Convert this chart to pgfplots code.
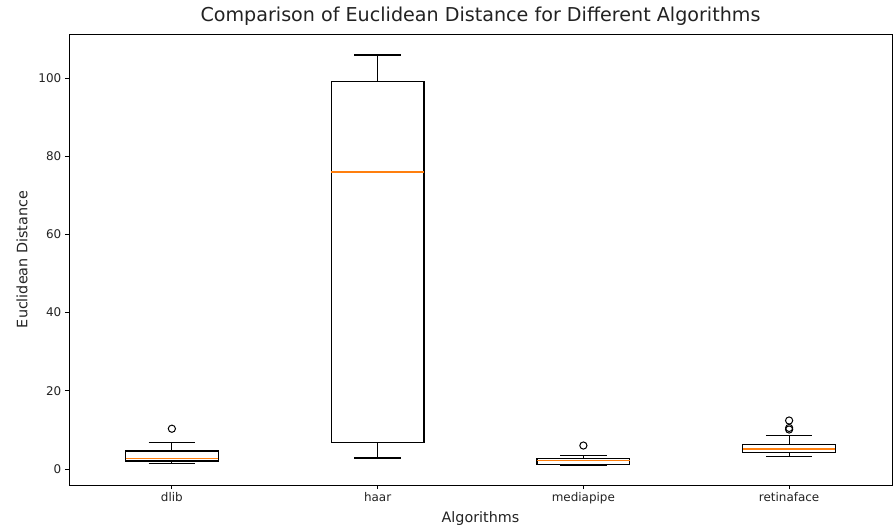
\documentclass[border=0pt]{standalone}
\usepackage{pgfplots}
\usepgfplotslibrary{statistics}
\pgfplotsset{compat=1.18}
\usepackage{fontspec}
\setmainfont{DejaVu Sans}
\definecolor{mplorange}{HTML}{FF7F0E}
\definecolor{txt}{HTML}{222222}

\begin{document}
\begin{tikzpicture}
\path[use as bounding box] (0,0) rectangle (893bp,529bp);
\begin{axis}[
at={(69bp,44bp)},
anchor=south west,
scale only axis,
width=823bp,
height=451bp,
xmin=0.5, xmax=4.5,
ymin=-4.09, ymax=111.25,
xtick={1,2,3,4},
xticklabels={dlib,haar,mediapipe,retinaface},
ytick={0,20,40,60,80,100},
tick pos=left,
tick align=outside,
major tick length=4.2bp,
every tick/.style={black, line width=0.96bp},
axis line style={black, line width=0.96bp},
/pgf/number format/assume math mode=true,
tick label style={font=\fontsize{12}{14}\selectfont, text=txt},
label style={font=\fontsize{14.4}{17}\selectfont, text=txt},
ylabel style={xshift=0bp, yshift=4bp},
title style={font=\fontsize{19.2}{22}\selectfont, text=txt, yshift=-1bp},
title={Comparison of Euclidean Distance for Different Algorithms},
xlabel={Algorithms},
ylabel={Euclidean Distance},
boxplot/draw direction=y,
boxplot/box extend=0.45,
boxplot/whisker extend=0.225,
boxplot/every median/.style={draw=mplorange, line width=1.4bp},
]
% dlib
\addplot[black, line width=1.2bp, mark=o, mark size=3.6bp, mark options={line width=1bp},
boxplot prepared={draw position=1, lower whisker=1.45, lower quartile=2.05,
median=2.7, upper quartile=4.6, upper whisker=6.7}]
coordinates {(0,10.3)};
% haar
\addplot[black, line width=1.2bp,
boxplot prepared={draw position=2, lower whisker=2.8, lower quartile=6.7,
median=76.0, upper quartile=99.2, upper whisker=105.9}]
coordinates {};
% mediapipe
\addplot[black, line width=1.2bp, mark=o, mark size=3.6bp, mark options={line width=1bp},
boxplot prepared={draw position=3, lower whisker=0.9, lower quartile=1.2,
median=2.1, upper quartile=2.7, upper whisker=3.4}]
coordinates {(0,6.0)};
% retinaface
\addplot[black, line width=1.2bp, mark=o, mark size=3.6bp, mark options={line width=1bp},
boxplot prepared={draw position=4, lower whisker=3.2, lower quartile=4.2,
median=5.1, upper quartile=6.3, upper whisker=8.6}]
coordinates {(0,10.1) (0,10.5) (0,12.4)};
\end{axis}
\end{tikzpicture}
\end{document}
